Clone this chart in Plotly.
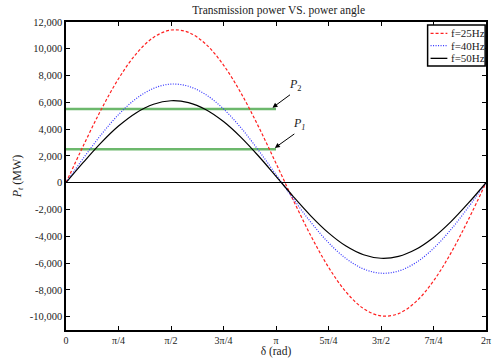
import plotly.graph_objects as go

# power angle in degrees (0 .. 2π)
delta_deg = [0, 15, 30, 45, 60, 75, 90, 105, 120, 135, 150, 165, 180,
             195, 210, 225, 240, 255, 270, 285, 300, 315, 330, 345, 360]

p_25hz = [0, 2788, 5435, 7760, 9608, 10848, 11400, 11224, 10333, 8786, 6691, 4188, 1450,
          -1338, -3985, -6310, -8157, -9398, -9950, -9774, -8882, -7336, -5241, -2738, 0]
p_40hz = [0, 1838, 3571, 5082, 6267, 7045, 7364, 7201, 6569, 5510, 4095, 2422, 604,
          -1234, -2967, -4478, -5663, -6441, -6760, -6597, -5965, -4906, -3491, -1818, 0]
p_50hz = [0, 1530, 2972, 4228, 5212, 5857, 6119, 5981, 5451, 4566, 3386, 1992, 478,
          -1052, -2494, -3750, -4733, -5379, -5641, -5503, -4972, -4088, -2908, -1514, 0]

series_names = ["f=25Hz", "f=40Hz", "f=50Hz"]

p2_level = 5500
p1_level = 2500
level_span = [0, 180]

x_tickvals = [0, 45, 90, 135, 180, 225, 270, 315, 360]
x_ticktext = ["0", "π/4", "π/2", "3π/4", "π", "5π/4", "3π/2", "7π/4", "2π"]
y_tickvals = [-10000, -8000, -6000, -4000, -2000, 0, 2000, 4000, 6000, 8000, 10000, 12000]
y_ticktext = ["-10,000", "-8,000", "-6,000", "-4,000", "-2,000", "0",
              "2,000", "4,000", "6,000", "8,000", "10,000", "12,000"]

FONT = "Liberation Serif, Times New Roman, serif"
GREEN = "#6cb86c"
styles = [dict(color="#ff2020", width=1.2, dash="3px,2px"),
          dict(color="#3030ff", width=1.2, dash="1px,1.5px"),
          dict(color="#000000", width=1.2, dash="solid")]

fig = go.Figure()
for lvl in (p2_level, p1_level):
    fig.add_trace(go.Scatter(x=level_span, y=[lvl, lvl], mode="lines",
                             line=dict(color=GREEN, width=2.5), showlegend=False,
                             hoverinfo="skip"))

for name, ys, st in zip(series_names, [p_25hz, p_40hz, p_50hz], styles):
    fig.add_trace(go.Scatter(x=delta_deg, y=ys, mode="lines", name=name,
                             line=dict(shape="spline", **st), showlegend=False))

fig.update_layout(
    width=492, height=358,
    margin=dict(l=66, r=1, t=22, b=28),
    paper_bgcolor="white", plot_bgcolor="white",
    font=dict(family=FONT, size=11, color="#222"),
    title=dict(text="Transmission power VS. power angle", x=0.5663, xanchor="center",
               y=0.972, yanchor="middle", font=dict(size=11.5, family=FONT, color="#222")),
    xaxis=dict(range=[0, 360], tickvals=x_tickvals, ticktext=x_ticktext,
               ticks="inside", ticklen=4, tickcolor="black", tickwidth=1,
               showline=True, linecolor="black", linewidth=1.5, mirror="ticks",
               showgrid=False, zeroline=False, ticklabeloverflow="allow",
               title=dict(text="δ (rad)", standoff=0, font=dict(size=11.5, family=FONT)),
               tickfont=dict(size=10, family=FONT)),
    yaxis=dict(range=[-11000, 12000], tickvals=y_tickvals, ticktext=y_ticktext,
               ticks="inside", ticklen=4, tickcolor="black", tickwidth=1,
               showline=True, linecolor="black", linewidth=1.5, mirror="ticks",
               showgrid=False, zeroline=True, zerolinecolor="black", zerolinewidth=1,
               title=dict(text="<i>P</i><sub><i>t</i></sub> (MW)", standoff=6,
                          font=dict(size=12, family=FONT)),
               tickfont=dict(size=10.5, family=FONT)),
    showlegend=False,
)

# custom compact legend (box + samples + labels)
fig.add_shape(type="rect", xref="paper", yref="paper", x0=0.861, x1=0.998, y0=0.857, y1=0.990,
              line=dict(color="black", width=1.5), fillcolor="white", layer="above")
row_y = [0.963, 0.923, 0.882]
for name, st, ry in zip(series_names, styles, row_y):
    fig.add_shape(type="line", xref="paper", yref="paper", x0=0.868, x1=0.908, y0=ry, y1=ry,
                  line=dict(color=st["color"], width=1.3, dash=st["dash"]), layer="above")
    fig.add_annotation(xref="paper", yref="paper", x=0.911, y=ry, text=name, showarrow=False,
                       xanchor="left", yanchor="middle",
                       font=dict(size=11, family=FONT, color="#222"))

fig.add_annotation(x=177, y=5600, ax=19, ay=-14, text="", showarrow=True,
                   arrowhead=2, arrowsize=1, arrowwidth=1, arrowcolor="black")
fig.add_annotation(x=179, y=2600, ax=21, ay=-15, text="", showarrow=True,
                   arrowhead=2, arrowsize=1, arrowwidth=1, arrowcolor="black")
fig.add_annotation(x=197, y=7300, text="<i>P</i><sub>2</sub>", showarrow=False,
                   font=dict(size=12, family=FONT, color="#222"))
fig.add_annotation(x=200, y=4400, text="<i>P</i><sub><i>1</i></sub>", showarrow=False,
                   font=dict(size=12, family=FONT, color="#222"))

fig.write_html("out.html")
